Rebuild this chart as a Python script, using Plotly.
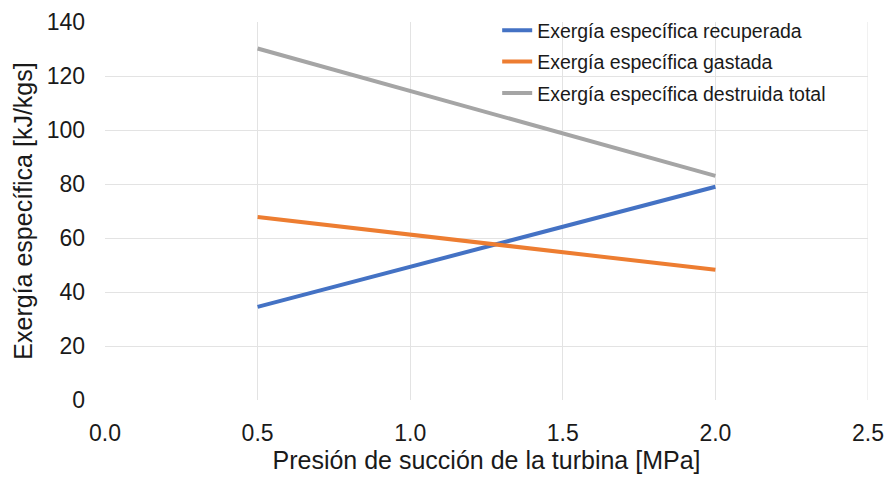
import plotly.graph_objects as go

presion = [0.5, 2.0]
recuperada = [34.5, 79.0]
gastada = [67.8, 48.2]
destruida = [130.2, 83.0]

series = [
    ("Exergía específica recuperada", recuperada, "#4472C4"),
    ("Exergía específica gastada", gastada, "#ED7D31"),
    ("Exergía específica destruida total", destruida, "#A5A5A5"),
]

fig = go.Figure()
for i, (name, vals, color) in enumerate(series):
    fig.add_trace(go.Scatter(x=presion, y=vals, mode="lines", name=name,
                             legendgroup=str(i),
                             line=dict(color=color, width=4)))

font = "Liberation Sans, Arial, sans-serif"
fig.update_layout(
    width=888, height=477,
    margin=dict(l=105, r=20, t=22, b=77, autoexpand=False),
    plot_bgcolor="white", paper_bgcolor="white",
    font=dict(family=font, color="#1a1a1a"),
    showlegend=True,
    legend=dict(x=0.514, y=1.029, xanchor="left", yanchor="top",
                bgcolor="rgba(0,0,0,0)", font=dict(size=19.5, color="#1a1a1a"),
                tracegroupgap=3, itemwidth=30),
    xaxis=dict(range=[0, 2.5], dtick=0.5, tickformat=".1f", automargin=False,
               showgrid=True, gridcolor="#E3E3E3", gridwidth=1,
               zeroline=False, showline=False, ticks="", ticklabelstandoff=17,
               tickfont=dict(size=23), title=dict(text="Presión de succión de la turbina [MPa]",
                                                   font=dict(size=25), standoff=6)),
    yaxis=dict(range=[0, 140], dtick=20, automargin=False,
               showgrid=True, gridcolor="#E3E3E3", gridwidth=1,
               zeroline=False, showline=False, ticks="", ticklabelstandoff=19,
               tickfont=dict(size=23), title=dict(text="Exergía específica [kJ/kgs]",
                                                   font=dict(size=25), standoff=6)),
)
fig.add_shape(type="line", xref="x", yref="paper", x0=2.5, x1=2.5, y0=0, y1=1,
              line=dict(color="#E3E3E3", width=1), layer="below")

fig.write_html("out.html")
